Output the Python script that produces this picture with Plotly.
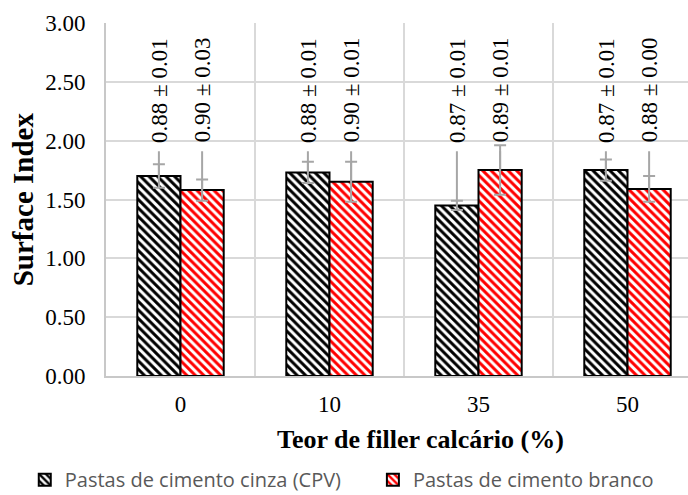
import plotly.graph_objects as go

# Filler content categories (x axis)
categories = ["0", "10", "35", "50"]

# Surface index per paste type
cpv_values = [1.70, 1.73, 1.45, 1.75]
cpv_errors = [0.10, 0.09, 0.04, 0.09]
branco_values = [1.58, 1.65, 1.75, 1.59]
branco_errors = [0.09, 0.17, 0.21, 0.11]

# Text written above each bar (mean ± sd)
cpv_label_mean = ["0.88", "0.88", "0.87", "0.87"]
cpv_label_sd = ["0.01", "0.01", "0.01", "0.01"]
branco_label_mean = ["0.90", "0.90", "0.89", "0.88"]
branco_label_sd = ["0.03", "0.01", "0.01", "0.00"]

series_names = ["Pastas de cimento cinza (CPV)", "Pastas de cimento branco"]
y_ticks = [0.0, 0.5, 1.0, 1.5, 2.0, 2.5, 3.0]

BAR_GAP = 0.42
LABEL_Y = 2.43       # centre of the rotated value labels
LEADER_TOP = 1.91    # where the leader lines stop under the labels
GRID = "#d9d9d9"
ERR = "#a6a6a6"
SERIF = "Liberation Serif"

x_pos = list(range(len(categories)))
bar_w = (1 - BAR_GAP) / 2
offsets = [-bar_w / 2, bar_w / 2]

fig = go.Figure()

series = [
    (cpv_values, cpv_errors, cpv_label_mean, cpv_label_sd, "#000000"),
    (branco_values, branco_errors, branco_label_mean, branco_label_sd, "#ff0000"),
]

# leader lines from each bar up to its label
for (vals, errs, means, sds, col), off in zip(series, offsets):
    lx, ly = [], []
    for x, v in zip(x_pos, vals):
        lx += [x + off, x + off, None]
        ly += [v, LEADER_TOP, None]
    fig.add_trace(go.Scatter(
        x=lx, y=ly, mode="lines", line=dict(color=ERR, width=2),
        showlegend=False, hoverinfo="skip"))

# one legend box per series, so each entry sits where it should
for (vals, errs, means, sds, col), name, leg in zip(series, series_names,
                                                    ["legend", "legend2"]):
    fig.add_trace(go.Bar(
        x=x_pos, y=vals, name=name, legend=leg,
        marker=dict(
            color="white",
            line=dict(color="black", width=2),
            pattern=dict(shape="\\", fgcolor=col, bgcolor="white",
                         size=6, solidity=0.5, fillmode="replace"),
        ),
        error_y=dict(type="data", array=errs, color=ERR, thickness=2, width=6),
    ))

# rotated value labels
for (vals, errs, means, sds, col), off in zip(series, offsets):
    for x, m, s in zip(x_pos, means, sds):
        fig.add_annotation(
            x=x + off, y=LABEL_Y, text=f"{m} ± {s}", textangle=-90,
            showarrow=False, xanchor="center", yanchor="middle",
            font=dict(family=SERIF, size=23, color="black"))

# axis titles
fig.add_annotation(
    xref="paper", yref="paper", x=0.541, y=-0.181,
    text="<b>Teor de filler calcário (%)</b>", showarrow=False,
    xanchor="center", yanchor="middle",
    font=dict(family=SERIF, size=26, color="black"))
fig.add_annotation(
    xref="paper", yref="paper", x=-0.143, y=0.5,
    text="<b>Surface Index</b>", showarrow=False, textangle=-90,
    xanchor="center", yanchor="middle",
    font=dict(family=SERIF, size=29, color="black"))

legend_style = dict(
    orientation="h", xref="container", yref="container",
    y=0.031, xanchor="left", yanchor="middle",
    font=dict(family="Open Sans", size=20, color="#595959"),
    bgcolor="rgba(0,0,0,0)",
)

fig.update_layout(
    width=688, height=495,
    margin=dict(l=106, r=0, t=23, b=119),
    paper_bgcolor="white", plot_bgcolor="white",
    barmode="group", bargap=BAR_GAP, bargroupgap=0,
    font=dict(family=SERIF, size=23, color="black"),
    legend=dict(x=0.036, **legend_style),
    legend2=dict(x=0.542, **legend_style),
    showlegend=True,
)

fig.update_xaxes(
    range=[-0.5, 3.406],
    tickmode="array", tickvals=x_pos, ticktext=categories,
    showgrid=False, zeroline=False,
    showline=True, linecolor="#c8c8c8", linewidth=2,
    ticks="outside", ticklen=6, tickcolor="rgba(0,0,0,0)",
    tickfont=dict(family=SERIF, size=23, color="black"),
    minor=dict(tickmode="array", tickvals=[-0.5, 0.5, 1.5, 2.5, 3.5],
               showgrid=True, gridcolor=GRID, gridwidth=2, ticks=""),
)

fig.update_yaxes(
    range=[0, 3], tickmode="array", tickvals=y_ticks, tickformat=".2f",
    showgrid=True, gridcolor=GRID, gridwidth=2, zeroline=False,
    showline=True, linecolor="#c8c8c8", linewidth=2,
    ticks="outside", ticklen=14, tickcolor="rgba(0,0,0,0)",
    tickfont=dict(family=SERIF, size=23, color="black"),
)

fig.write_html("out.html")
